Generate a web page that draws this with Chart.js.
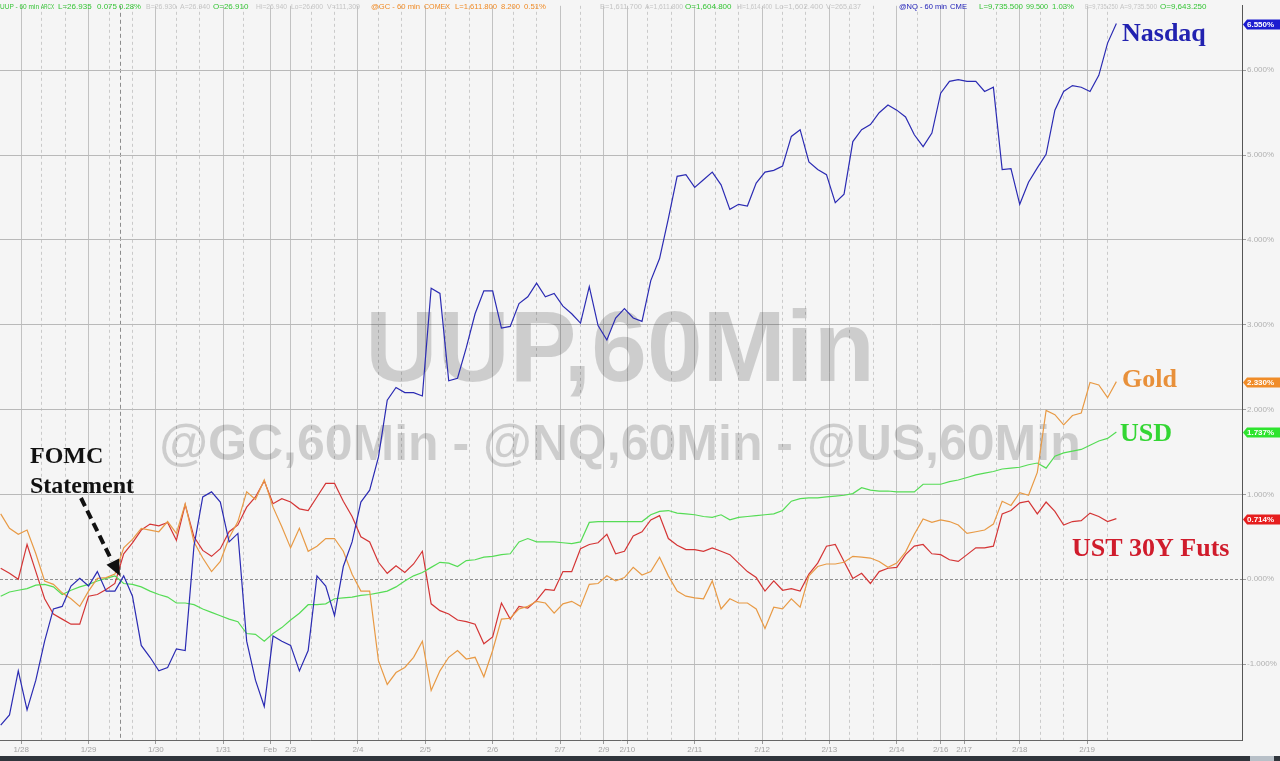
<!DOCTYPE html>
<html>
<head>
<meta charset="utf-8">
<title>UUP, GC, NQ, US - 60 min</title>
<script src="https://cdn.jsdelivr.net/npm/chart.js@4.4.0/dist/chart.umd.min.js"></script>
<style>
  html, body { margin: 0; padding: 0; background: #f5f5f5; }
  #wrap { position: relative; width: 1280px; height: 761px; overflow: hidden; }
  canvas { display: block; }
  #bar { position: absolute; left: 0; top: 756px; width: 1280px; height: 5px; background: #30353c; }
  #thumb { position: absolute; left: 1250px; top: 756px; width: 24px; height: 5px; background: #b8c0c8; }
</style>
</head>
<body>
<div id="wrap">
  <canvas id="chart" width="1280" height="756"></canvas>
  <div id="bar"></div><div id="thumb"></div>
</div>
<script>
// 60 min bars, one sample every 3 bars
const STEP = 3;

// x axis: bar index of each session label
const dayTicks  = [7, 30, 53, 76, 92, 99, 122, 145, 168, 191, 206, 214, 237, 260, 283, 306, 321, 329, 348, 371];
const dayLabels = ['1/28', '1/29', '1/30', '1/31', 'Feb', '2/3', '2/4', '2/5', '2/6', '2/7', '2/9', '2/10',
                   '2/11', '2/12', '2/13', '2/14', '2/16', '2/17', '2/18', '2/19'];
const minorTicks = [14, 22, 37, 45, 60, 68, 83, 106, 114, 129, 137, 152, 160, 175, 183, 198, 221, 229,
                    244, 252, 267, 275, 290, 298, 313, 340, 355, 363, 378];
const fomcBar = 41;
const yTicks = [-1, 0, 1, 2, 3, 4, 5, 6];

// % change
const nasdaq = [-1.72, -1.60, -1.08, -1.54, -1.19, -0.73, -0.35, -0.32, -0.08, 0.01,
  -0.08, 0.09, -0.14, -0.14, 0.04, -0.20, -0.78, -0.92, -1.08, -1.04,
  -0.82, -0.84, 0.39, 0.97, 1.03, 0.91, 0.44, 0.54, -0.73, -1.19,
  -1.50, -0.67, -0.73, -0.78, -1.08, -0.84, 0.04, -0.08, -0.43, 0.15,
  0.44, 0.91, 1.05, 1.44, 2.11, 2.26, 2.20, 2.20, 2.16, 3.43,
  3.37, 2.34, 2.37, 2.73, 3.13, 3.40, 3.40, 2.96, 2.98, 3.25,
  3.33, 3.49, 3.33, 3.37, 3.22, 3.13, 3.02, 3.45, 2.99, 2.82,
  3.08, 3.19, 3.08, 3.04, 3.52, 3.78, 4.25, 4.75, 4.77, 4.62,
  4.71, 4.80, 4.65, 4.36, 4.42, 4.40, 4.67, 4.80, 4.82, 4.87,
  5.22, 5.30, 4.92, 4.83, 4.77, 4.44, 4.54, 5.16, 5.30, 5.36,
  5.50, 5.59, 5.53, 5.45, 5.24, 5.10, 5.26, 5.73, 5.87, 5.89,
  5.87, 5.87, 5.75, 5.80, 4.83, 4.84, 4.42, 4.68, 4.85, 5.01,
  5.53, 5.75, 5.82, 5.80, 5.75, 5.94, 6.32, 6.55];

const gold = [0.77, 0.60, 0.53, 0.58, 0.30, -0.02, -0.06, -0.16, -0.23, -0.32,
  -0.14, 0.01, 0.02, 0.06, 0.37, 0.47, 0.60, 0.58, 0.56, 0.68,
  0.54, 0.89, 0.44, 0.25, 0.09, 0.21, 0.49, 0.68, 1.03, 0.94,
  1.17, 0.85, 0.62, 0.37, 0.60, 0.33, 0.39, 0.48, 0.48, 0.33,
  0.06, -0.14, -0.14, -0.96, -1.24, -1.10, -1.04, -0.92, -0.73, -1.31,
  -1.08, -0.92, -0.84, -0.94, -0.92, -1.15, -0.84, -0.47, -0.46, -0.35,
  -0.32, -0.26, -0.28, -0.40, -0.29, -0.26, -0.32, -0.06, -0.05, 0.04,
  -0.02, 0.02, 0.14, 0.05, 0.09, 0.26, 0.04, -0.14, -0.20, -0.22,
  -0.23, -0.02, -0.35, -0.23, -0.28, -0.28, -0.35, -0.58, -0.33, -0.35,
  -0.23, -0.33, 0.04, 0.15, 0.18, 0.18, 0.20, 0.27, 0.26, 0.25,
  0.21, 0.14, 0.19, 0.32, 0.53, 0.71, 0.67, 0.70, 0.68, 0.64,
  0.54, 0.56, 0.58, 0.65, 0.92, 0.87, 1.02, 0.99, 1.26, 1.99,
  1.94, 1.82, 1.93, 1.96, 2.32, 2.29, 2.14, 2.33];

const usd = [-0.20, -0.15, -0.13, -0.11, -0.07, -0.06, -0.09, -0.18, -0.13, -0.09,
  -0.06, -0.02, 0.01, 0.04, -0.05, -0.06, -0.09, -0.14, -0.18, -0.21,
  -0.28, -0.28, -0.30, -0.35, -0.39, -0.43, -0.47, -0.50, -0.64, -0.65,
  -0.73, -0.64, -0.57, -0.48, -0.40, -0.30, -0.30, -0.29, -0.23, -0.22,
  -0.21, -0.19, -0.18, -0.16, -0.14, -0.09, -0.02, 0.04, 0.08, 0.14,
  0.20, 0.19, 0.15, 0.22, 0.23, 0.26, 0.27, 0.29, 0.30, 0.44,
  0.48, 0.44, 0.44, 0.44, 0.43, 0.42, 0.44, 0.67, 0.68, 0.68,
  0.68, 0.68, 0.68, 0.68, 0.76, 0.80, 0.81, 0.78, 0.77, 0.76,
  0.74, 0.73, 0.76, 0.70, 0.73, 0.74, 0.75, 0.76, 0.77, 0.81,
  0.92, 0.95, 0.96, 0.96, 0.97, 0.98, 0.99, 1.01, 1.08, 1.05,
  1.04, 1.04, 1.03, 1.03, 1.03, 1.12, 1.12, 1.12, 1.15, 1.17,
  1.20, 1.23, 1.25, 1.27, 1.30, 1.31, 1.32, 1.35, 1.37, 1.31,
  1.45, 1.49, 1.51, 1.53, 1.58, 1.63, 1.66, 1.737];

const ust = [0.13, 0.07, 0.00, 0.41, 0.09, -0.23, -0.41, -0.47, -0.53, -0.53,
  -0.20, -0.18, -0.12, -0.05, 0.30, 0.43, 0.58, 0.65, 0.63, 0.67,
  0.46, 0.88, 0.50, 0.34, 0.27, 0.36, 0.56, 0.64, 0.85, 0.97,
  1.16, 0.89, 0.95, 0.91, 0.83, 0.81, 0.97, 1.13, 1.13, 0.92,
  0.74, 0.50, 0.44, 0.20, 0.07, 0.16, 0.08, 0.18, 0.33, -0.29,
  -0.37, -0.41, -0.48, -0.50, -0.53, -0.76, -0.68, -0.28, -0.47, -0.32,
  -0.34, -0.25, -0.12, -0.13, 0.09, 0.09, 0.36, 0.41, 0.43, 0.53,
  0.30, 0.33, 0.51, 0.56, 0.70, 0.75, 0.48, 0.40, 0.35, 0.35,
  0.33, 0.37, 0.33, 0.29, 0.19, 0.09, 0.02, -0.14, -0.02, -0.13,
  -0.11, -0.14, 0.06, 0.19, 0.39, 0.41, 0.21, 0.01, 0.07, -0.05,
  0.09, 0.13, 0.14, 0.29, 0.39, 0.41, 0.30, 0.29, 0.23, 0.21,
  0.29, 0.37, 0.37, 0.39, 0.77, 0.81, 0.90, 0.92, 0.77, 0.91,
  0.80, 0.64, 0.68, 0.69, 0.78, 0.74, 0.68, 0.714];

// quote header: text, colour, left, max width
const header = [
  ['UUP - 60 min', '#35c435', 0, 39],
  ['ARCX', '#35c435', 41, 13],
  ['L=26.935', '#35c435', 58, 35],
  ['0.075', '#35c435', 97, 20],
  ['0.28%', '#35c435', 119, 22],
  ['B=26.930', '#c4c4c4', 146, 30],
  ['A=26.940', '#c4c4c4', 180, 30],
  ['O=26.910', '#35c435', 213, 36],
  ['Hi=26.940', '#c4c4c4', 256, 31],
  ['Lo=26.900', '#c4c4c4', 291, 32],
  ['V=111,309', '#c4c4c4', 327, 33],
  ['@GC - 60 min', '#f08a24', 371, 49],
  ['COMEX', '#f08a24', 424, 26],
  ['L=1,611.800', '#f08a24', 455, 42],
  ['8.200', '#f08a24', 501, 19],
  ['0.51%', '#f08a24', 524, 22],
  ['B=1,611.700', '#c4c4c4', 600, 42],
  ['A=1,611.800', '#c4c4c4', 645, 38],
  ['O=1,604.800', '#35c435', 685, 48],
  ['Hi=1,614.400', '#c4c4c4', 737, 35],
  ['Lo=1,602.400', '#c4c4c4', 775, 48],
  ['V=265,137', '#c4c4c4', 826, 35],
  ['@NQ - 60 min', '#2020b8', 899, 48],
  ['CME', '#2020b8', 950, 17],
  ['L=9,735.500', '#35c435', 979, 44],
  ['99.500', '#35c435', 1026, 22],
  ['1.03%', '#35c435', 1052, 22],
  ['B=9,735.250', '#c4c4c4', 1085, 33],
  ['A=9,735.500', '#c4c4c4', 1120, 37],
  ['O=9,643.250', '#35c435', 1160, 60]
];

const series = [
  { name: 'Nasdaq', data: nasdaq, color: '#2b2bb3', text: '#2222b0', lx: 1122, ly: 41 },
  { name: 'Gold', data: gold, color: '#e89a45', text: '#e8903a', lx: 1122, ly: 387 },
  { name: 'USD', data: usd, color: '#55dc55', text: '#33d633', lx: 1120, ly: 441 },
  { name: 'UST 30Y Futs', data: ust, color: '#d43535', text: '#d01c2c', lx: 1072, ly: 556 }
];
const badgeColors = ['#1c1cd0', '#f08c28', '#2ee42e', '#e61e1e'];

const isDay = v => dayTicks.includes(v);

const overlay = {
  id: 'overlay',
  beforeDraw(chart) {
    const c = chart.ctx;
    c.save();
    c.fillStyle = '#f5f5f5';
    c.fillRect(0, 0, chart.width, chart.height);
    c.restore();
  },
  beforeDatasetsDraw(chart) {
    const c = chart.ctx;
    c.save();
    c.fillStyle = 'rgba(0,0,0,0.16)';
    c.textAlign = 'center';
    c.font = 'bold 100px "Liberation Sans", Arial, sans-serif';
    c.fillText('UUP,60Min', 620, 381);
    c.font = 'bold 50px "Liberation Sans", Arial, sans-serif';
    c.fillText('@GC,60Min - @NQ,60Min - @US,60Min', 620, 460);
    c.restore();
  },
  afterDraw(chart) {
    const c = chart.ctx, a = chart.chartArea, ys = chart.scales.y;
    c.save();

    // header line
    c.font = '8px "Liberation Sans", Arial, sans-serif';
    c.textBaseline = 'alphabetic';
    header.forEach(([t, col, x, w]) => { c.fillStyle = col; c.fillText(t, x, 9, w); });

    // series names
    c.font = 'bold 26px "Liberation Serif", "Times New Roman", serif';
    series.forEach(s => { c.fillStyle = s.text; c.fillText(s.name, s.lx, s.ly); });

    // last value badges
    c.font = 'bold 8px "Liberation Sans", Arial, sans-serif';
    c.textBaseline = 'middle';
    series.forEach((s, k) => {
      const v = s.data[s.data.length - 1];
      const y = Math.round(ys.getPixelForValue(v)) + 0.5;
      const x0 = a.right + 1;
      c.fillStyle = badgeColors[k];
      c.beginPath();
      c.moveTo(x0, y);
      c.lineTo(x0 + 4, y - 5);
      c.lineTo(chart.width, y - 5);
      c.lineTo(chart.width, y + 5);
      c.lineTo(x0 + 4, y + 5);
      c.closePath();
      c.fill();
      c.fillStyle = '#ffffff';
      c.fillText(v.toFixed(3) + '%', x0 + 4, y + 0.5);
    });

    // FOMC note and arrow
    c.textBaseline = 'alphabetic';
    c.fillStyle = '#111';
    c.font = 'bold 24px "Liberation Serif", "Times New Roman", serif';
    c.fillText('FOMC', 30, 463);
    c.fillText('Statement', 30, 493);
    c.strokeStyle = '#111';
    c.lineWidth = 4;
    c.setLineDash([9, 5]);
    c.beginPath();
    c.moveTo(81, 498);
    c.lineTo(112, 561);
    c.stroke();
    c.setLineDash([]);
    c.beginPath();
    c.moveTo(120, 576);
    c.lineTo(106.5, 564.8);
    c.lineTo(119.1, 558.6);
    c.closePath();
    c.fill();
    c.restore();
  }
};

new Chart(document.getElementById('chart').getContext('2d'), {
  type: 'line',
  data: {
    datasets: series.map(s => ({
      label: s.name,
      data: s.data.map((v, i) => ({ x: i * STEP, y: v })),
      borderColor: s.color,
      borderWidth: 1.2,
      pointRadius: 0,
      tension: 0,
      fill: false
    }))
  },
  options: {
    responsive: false,
    animation: false,
    layout: { padding: 0 },
    plugins: { legend: { display: false }, tooltip: { enabled: false } },
    scales: {
      x: {
        type: 'linear',
        min: -0.24,
        max: 423.9,
        afterBuildTicks: s => {
          s.ticks = [...dayTicks, ...minorTicks, fomcBar].sort((p, q) => p - q).map(v => ({ value: v }));
        },
        afterFit: s => { s.height = 16; },
        ticks: {
          autoSkip: false,
          maxRotation: 0,
          padding: 1,
          color: '#a4a4a4',
          font: { size: 8 },
          callback: v => { const k = dayTicks.indexOf(v); return k >= 0 ? dayLabels[k] : ''; }
        },
        grid: {
          color: ctx => {
            const v = ctx.tick && ctx.tick.value;
            if (v === fomcBar) return '#8c8c8c';
            return isDay(v) ? '#c2c2c2' : '#cacaca';
          },
          tickLength: 4,
          tickColor: ctx => (ctx.tick && isDay(ctx.tick.value)) ? '#9a9a9a' : 'rgba(0,0,0,0)'
        },
        border: {
          color: '#666',
          dash: ctx => {
            if (!ctx.tick) return [];
            if (ctx.tick.value === fomcBar) return [4, 3];
            return isDay(ctx.tick.value) ? [] : [3, 3];
          }
        }
      },
      y: {
        position: 'right',
        min: -1.895,
        max: 6.76,
        afterBuildTicks: s => { s.ticks = yTicks.map(v => ({ value: v })); },
        afterFit: s => { s.width = 38; },
        ticks: {
          padding: 1,
          color: '#b0b0b0',
          font: { size: 8 },
          callback: v => v.toFixed(3) + '%'
        },
        grid: {
          color: ctx => (ctx.tick && ctx.tick.value === 0) ? '#8e8e8e' : '#b9b9b9',
          tickLength: 4,
          tickColor: '#9a9a9a'
        },
        border: {
          color: '#555',
          dash: ctx => (ctx.tick && ctx.tick.value === 0) ? [3, 2] : []
        }
      }
    }
  },
  plugins: [overlay]
});
</script>
</body>
</html>
